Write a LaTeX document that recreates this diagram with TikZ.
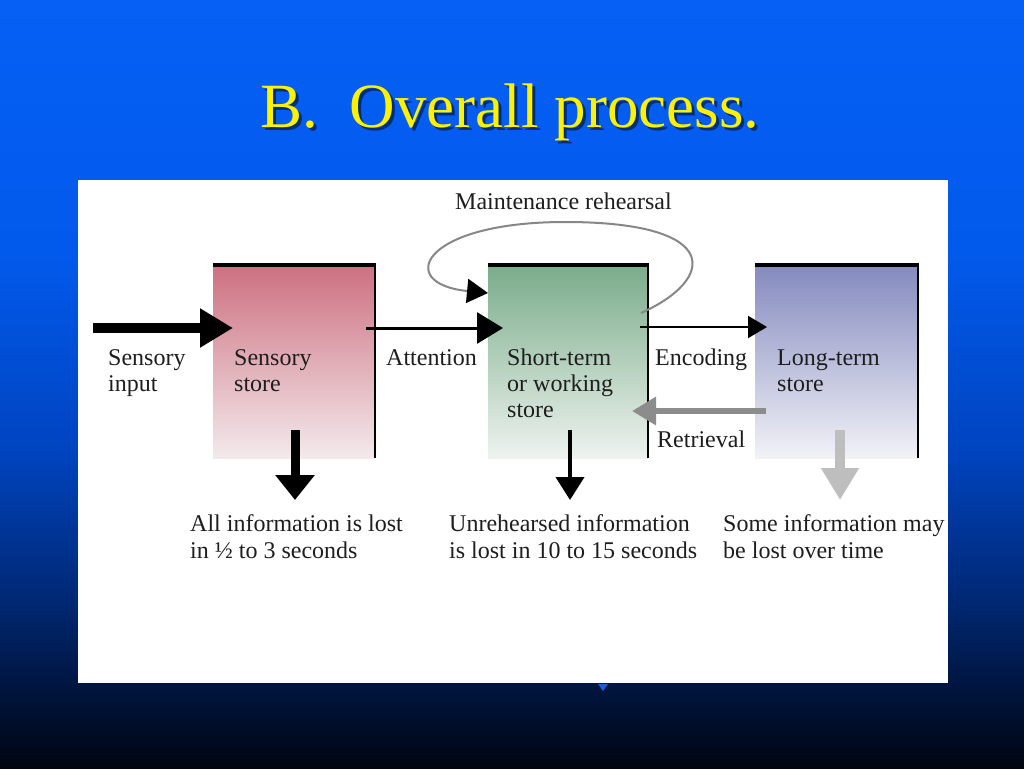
\documentclass[tikz,border=0pt]{standalone}
\usepackage{fontspec}
\setmainfont{Liberation Serif}
\usetikzlibrary{arrows.meta}
\definecolor{bgA}{RGB}{6,96,245}
\definecolor{bgB}{RGB}{2,90,236}
\definecolor{bgC}{RGB}{0,68,192}
\definecolor{bgD}{RGB}{0,40,115}
\definecolor{bgE}{RGB}{0,18,55}
\definecolor{bgF}{RGB}{0,5,16}
\definecolor{pinkTop}{RGB}{205,112,128}
\definecolor{pinkBot}{RGB}{243,234,236}
\definecolor{greenTop}{RGB}{122,172,138}
\definecolor{greenBot}{RGB}{238,243,239}
\definecolor{blueTop}{RGB}{132,138,190}
\definecolor{blueBot}{RGB}{242,242,247}
\definecolor{retrgray}{RGB}{140,140,140}
\definecolor{lightgray}{RGB}{190,190,190}
\definecolor{loopgray}{RGB}{135,135,135}
\definecolor{txt}{RGB}{30,30,30}
\definecolor{marker}{RGB}{30,90,220}
\pgfdeclareverticalshading{slidebg}{100bp}{color(0bp)=(bgF); color(25bp)=(bgF); color(29.4bp)=(bgE); color(35.9bp)=(bgD); color(45.7bp)=(bgC); color(58.7bp)=(bgB); color(75bp)=(bgA); color(100bp)=(bgA)}
\newcommand\titlefnt{\fontsize{63}{70}\selectfont}
\newcommand\bodyfnt{\fontsize{24}{26}\selectfont}
\newcommand\lossfnt{\fontsize{24}{27}\selectfont}
\begin{document}
\begin{tikzpicture}[x=1pt,y=-1pt,
  store/.style={rectangle, inner sep=0pt, minimum height=193pt},
  bar/.style={line width=4.5pt, black},
  edge/.style={line width=2pt, black},
  lbl/.style={anchor=base west, inner sep=0pt, align=left, font=\bodyfnt, text=txt},
  loss/.style={anchor=base west, inner sep=0pt, align=left, font=\lossfnt, text=txt}]
\shade[shading=slidebg] (0,0) rectangle (1024,768);
\useasboundingbox (0,0) rectangle (1024,768);
% title
\node[anchor=base, font=\titlefnt, text=black, opacity=0.5] (titleshadow) at (513,130) {B.\ \ Overall process.};
\node[anchor=base, font=\titlefnt, text=yellow] (title) at (510,127) {B.\ \ Overall process.};
% panel
\fill[white] (78,180) rectangle (948,683);
\fill[marker] (598,684) -- (608,684) -- (603,691) -- cycle;
% stores
\node[store, minimum width=162pt, top color=pinkTop, bottom color=pinkBot] (sens) at (294,361.5) {};
\node[store, minimum width=160pt, top color=greenTop, bottom color=greenBot] (stm) at (568,361.5) {};
\node[store, minimum width=163pt, top color=blueTop, bottom color=blueBot] (ltm) at (836.5,361.5) {};
\foreach \b in {sens,stm,ltm}{
  \draw[bar] (\b.north west) -- ([xshift=1pt]\b.north east);
  \draw[edge] (\b.north east) -- (\b.south east);
}
% coordinates for connectors
\coordinate (sin0) at (93,328);
\coordinate (sin1) at (233,328);
\coordinate (att0) at (366,328);
\coordinate (att1) at (503,328);
\coordinate (enc0) at (640,327);
\coordinate (enc1) at (767,327);
\coordinate (ret0) at (766,411);
\coordinate (ret1) at (632,411);
\coordinate (loop0) at (641,313);
\coordinate (looptop) at (565,222);
\coordinate (loop1) at (488,293);
\coordinate (sd0) at (295,430);
\coordinate (sd1) at (295,500);
\coordinate (md0) at (570,430);
\coordinate (md1) at (570,500);
\coordinate (ld0) at (840,430);
\coordinate (ld1) at (840,500);
% arrows
\draw[line width=10pt, -{Triangle[length=33pt,width=37pt]}] (sin0) -- (sin1);
\draw[line width=3pt, -{Triangle[length=26pt,width=31pt]}] (att0) -- (att1);
\draw[line width=2pt, -{Triangle[length=19pt,width=22pt]}] (enc0) -- (enc1);
\draw[line width=6pt, retrgray, -{Triangle[length=24pt,width=27pt]}] (ret0) -- (ret1);
\draw[line width=2pt, loopgray, -{Triangle[length=21pt,width=24pt,black]}]
  (loop0) .. controls (715,280) and (725,222) .. (looptop)
          .. controls (420,222) and (395,284) .. (loop1);
\draw[line width=9pt, -{Triangle[length=25pt,width=38pt]}] (sd0) -- (sd1);
\draw[line width=4pt, -{Triangle[length=23pt,width=28pt]}] (md0) -- (md1);
\draw[line width=10pt, lightgray, -{Triangle[length=32pt,width=36pt]}] (ld0) -- (ld1);
% labels (base = baseline of the last line)
\node[lbl] (maint) at (455,209) {Maintenance rehearsal};
\node[lbl] (sinput) at (108,391) {Sensory\\input};
\node[lbl] (senstxt) at (234,391) {Sensory\\store};
\node[lbl] (atttxt) at (386,365) {Attention};
\node[lbl] (stmtxt) at (507,417) {Short-term\\or working\\store};
\node[lbl] (enctxt) at (655,365) {Encoding};
\node[lbl] (ltmtxt) at (777,391) {Long-term\\store};
\node[lbl] (rettxt) at (657,447) {Retrieval};
\node[loss] (loss1) at (190,558) {All information is lost\\in ½ to 3 seconds};
\node[loss] (loss2) at (449,558) {Unrehearsed information\\is lost in 10 to 15 seconds};
\node[loss] (loss3) at (723,558) {Some information may\\be lost over time};
\end{tikzpicture}
\end{document}
